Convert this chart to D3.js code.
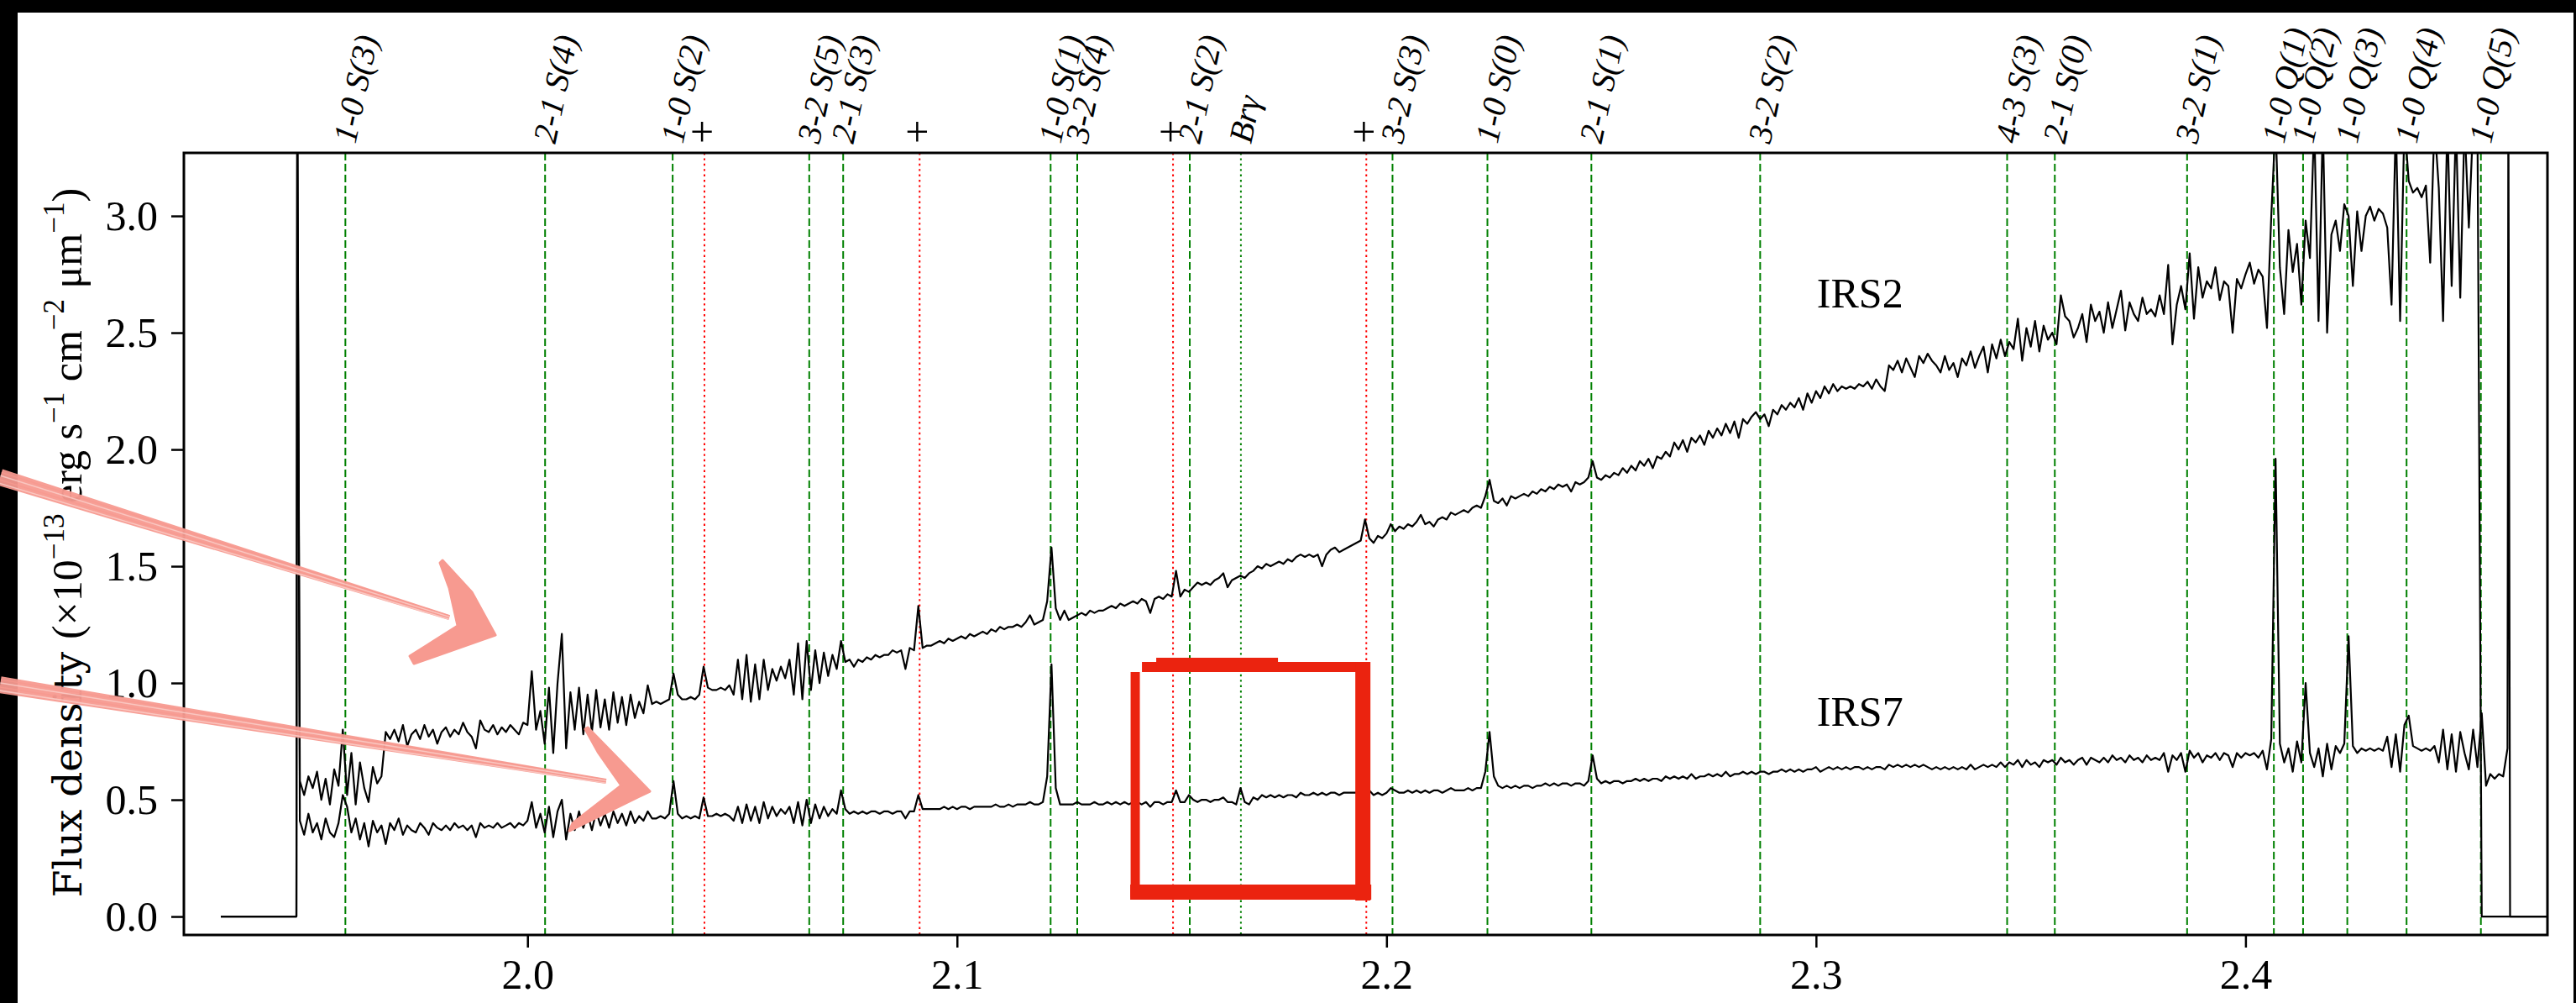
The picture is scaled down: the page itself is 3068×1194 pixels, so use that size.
<!DOCTYPE html>
<html><head><meta charset="utf-8">
<script src="https://cdn.jsdelivr.net/npm/d3@7"></script>
<style>
html,body{margin:0;padding:0;background:#000;}
svg{display:block;}
</style></head><body>
<svg id="chart" width="3068" height="1194"></svg>
<script>
// ---------------- DATA ----------------
const wavelength = [1.9286,1.9462,1.9464,
1.947,1.948,1.949,
1.950,1.951,1.952,1.953,1.954,1.955,1.956,1.957,1.958,1.959,
1.960,1.961,1.962,1.963,1.964,1.965,1.966,1.967,1.968,1.969,
1.970,1.971,1.972,1.973,1.974,1.975,1.976,1.977,1.978,1.979,
1.980,1.981,1.982,1.983,1.984,1.985,1.986,1.987,1.988,1.989,
1.990,1.991,1.992,1.993,1.994,1.995,1.996,1.997,1.998,1.999,
2.000,2.001,2.002,2.003,2.004,2.005,2.006,2.007,2.008,2.009,
2.010,2.011,2.012,2.013,2.014,2.015,2.016,2.017,2.018,2.019,
2.020,2.021,2.022,2.023,2.024,2.025,2.026,2.027,2.028,2.029,
2.030,2.031,2.032,2.033,2.034,2.035,2.036,2.037,2.038,2.039,
2.040,2.041,2.042,2.043,2.044,2.045,2.046,2.047,2.048,2.049,
2.050,2.051,2.052,2.053,2.054,2.055,2.056,2.057,2.058,2.059,
2.060,2.061,2.062,2.063,2.064,2.065,2.066,2.067,2.068,2.069,
2.070,2.071,2.072,2.073,2.074,2.075,2.076,2.077,2.078,2.079,
2.080,2.081,2.082,2.083,2.084,2.085,2.086,2.087,2.088,2.089,
2.090,2.091,2.092,2.093,2.094,2.095,2.096,2.097,2.098,2.099,
2.100,2.101,2.102,2.103,2.104,2.105,2.106,2.107,2.108,2.109,
2.110,2.111,2.112,2.113,2.114,2.115,2.116,2.117,2.118,2.119,
2.120,2.121,2.122,2.123,2.124,2.125,2.126,2.127,2.128,2.129,
2.130,2.131,2.132,2.133,2.134,2.135,2.136,2.137,2.138,2.139,
2.140,2.141,2.142,2.143,2.144,2.145,2.146,2.147,2.148,2.149,
2.150,2.151,2.152,2.153,2.154,2.155,2.156,2.157,2.158,2.159,
2.160,2.161,2.162,2.163,2.164,2.165,2.166,2.167,2.168,2.169,
2.170,2.171,2.172,2.173,2.174,2.175,2.176,2.177,2.178,2.179,
2.180,2.181,2.182,2.183,2.184,2.185,2.186,2.187,2.188,2.189,
2.190,2.191,2.192,2.193,2.194,2.195,2.196,2.197,2.198,2.199,
2.200,2.201,2.202,2.203,2.204,2.205,2.206,2.207,2.208,2.209,
2.210,2.211,2.212,2.213,2.214,2.215,2.216,2.217,2.218,2.219,
2.220,2.221,2.222,2.223,2.224,2.225,2.226,2.227,2.228,2.229,
2.230,2.231,2.232,2.233,2.234,2.235,2.236,2.237,2.238,2.239,
2.240,2.241,2.242,2.243,2.244,2.245,2.246,2.247,2.248,2.249,
2.250,2.251,2.252,2.253,2.254,2.255,2.256,2.257,2.258,2.259,
2.260,2.261,2.262,2.263,2.264,2.265,2.266,2.267,2.268,2.269,
2.270,2.271,2.272,2.273,2.274,2.275,2.276,2.277,2.278,2.279,
2.280,2.281,2.282,2.283,2.284,2.285,2.286,2.287,2.288,2.289,
2.290,2.291,2.292,2.293,2.294,2.295,2.296,2.297,2.298,2.299,
2.300,2.301,2.302,2.303,2.304,2.305,2.306,2.307,2.308,2.309,
2.310,2.311,2.312,2.313,2.314,2.315,2.316,2.317,2.318,2.319,
2.320,2.321,2.322,2.323,2.324,2.325,2.326,2.327,2.328,2.329,
2.330,2.331,2.332,2.333,2.334,2.335,2.336,2.337,2.338,2.339,
2.340,2.341,2.342,2.343,2.344,2.345,2.346,2.347,2.348,2.349,
2.350,2.351,2.352,2.353,2.354,2.355,2.356,2.357,2.358,2.359,
2.360,2.361,2.362,2.363,2.364,2.365,2.366,2.367,2.368,2.369,
2.370,2.371,2.372,2.373,2.374,2.375,2.376,2.377,2.378,2.379,
2.380,2.381,2.382,2.383,2.384,2.385,2.386,2.387,2.388,2.389,
2.390,2.391,2.392,2.393,2.394,2.395,2.396,2.397,2.398,2.399,
2.400,2.401,2.402,2.403,2.404,2.405,2.406,2.407,2.408,2.409,
2.410,2.411,2.412,2.413,2.414,2.415,2.416,2.417,2.418,2.419,
2.420,2.421,2.422,2.423,2.424,2.425,2.426,2.427,2.428,2.429,
2.430,2.431,2.432,2.433,2.434,2.435,2.436,2.437,2.438,2.439,
2.440,2.441,2.442,2.443,2.444,2.445,2.446,2.447,2.448,2.449,
2.450,2.451,2.452,2.453,2.454,2.455,2.456,2.457,2.458,2.459,
2.460,2.461,
2.4612,2.4616,2.4710];

const irs2Flux = [0,0,3.6,
0.58,0.52,0.60,
0.55,0.62,0.50,0.59,0.48,0.63,0.56,0.80,0.52,0.70,
0.48,0.66,0.55,0.49,0.64,0.57,0.60,0.79,0.76,0.80,
0.75,0.82,0.73,0.78,0.80,0.76,0.82,0.77,0.80,0.74,
0.79,0.81,0.77,0.80,0.78,0.83,0.79,0.77,0.72,0.84,
0.80,0.79,0.82,0.78,0.81,0.79,0.82,0.80,0.78,0.83,
0.82,1.05,0.80,0.88,0.74,0.98,0.70,1.00,1.21,0.72,
0.96,0.80,0.98,0.78,0.95,0.79,0.97,0.81,0.93,0.80,
0.96,0.83,0.94,0.82,0.95,0.85,0.92,0.87,0.99,0.91,
0.92,0.91,0.92,0.93,1.04,0.95,0.93,0.93,0.94,0.93,
0.95,1.07,0.98,0.97,0.97,0.98,0.97,0.99,0.95,1.10,
0.93,1.12,0.92,1.08,0.93,1.10,0.97,1.06,1.01,1.07,
1.02,1.10,0.95,1.17,0.93,1.18,0.97,1.14,1.00,1.13,
1.03,1.12,1.06,1.18,1.09,1.10,1.07,1.10,1.09,1.11,
1.10,1.12,1.11,1.12,1.12,1.14,1.13,1.14,1.06,1.15,
1.14,1.33,1.15,1.16,1.16,1.17,1.18,1.17,1.19,1.18,
1.19,1.20,1.19,1.21,1.20,1.21,1.22,1.21,1.23,1.22,
1.24,1.23,1.24,1.24,1.25,1.24,1.26,1.29,1.25,1.26,
1.27,1.35,1.58,1.32,1.27,1.31,1.27,1.28,1.29,1.30,
1.29,1.31,1.30,1.31,1.31,1.32,1.33,1.32,1.34,1.33,
1.34,1.35,1.34,1.36,1.35,1.30,1.36,1.37,1.36,1.38,
1.37,1.48,1.37,1.40,1.39,1.41,1.43,1.42,1.43,1.42,
1.44,1.45,1.47,1.41,1.44,1.45,1.46,1.45,1.47,1.48,
1.50,1.49,1.51,1.50,1.51,1.52,1.51,1.53,1.52,1.54,
1.55,1.54,1.55,1.54,1.55,1.50,1.55,1.57,1.58,1.56,
1.57,1.58,1.59,1.60,1.61,1.70,1.62,1.60,1.63,1.62,
1.64,1.68,1.65,1.67,1.66,1.68,1.67,1.69,1.72,1.68,
1.69,1.67,1.70,1.71,1.70,1.73,1.72,1.73,1.74,1.73,
1.75,1.76,1.75,1.80,1.87,1.78,1.77,1.79,1.76,1.80,
1.79,1.80,1.81,1.80,1.82,1.81,1.83,1.82,1.84,1.83,
1.85,1.84,1.85,1.82,1.86,1.85,1.86,1.88,1.95,1.88,
1.87,1.89,1.88,1.90,1.89,1.92,1.90,1.93,1.91,1.95,
1.93,1.96,1.92,1.97,1.96,1.99,1.97,2.03,2.00,2.04,
1.99,2.05,2.03,2.06,2.02,2.08,2.05,2.09,2.06,2.11,
2.07,2.12,2.05,2.13,2.11,2.14,2.16,2.13,2.15,2.10,
2.17,2.15,2.19,2.17,2.20,2.18,2.22,2.17,2.24,2.20,
2.25,2.22,2.27,2.24,2.28,2.25,2.27,2.26,2.27,2.26,
2.28,2.27,2.29,2.26,2.30,2.27,2.25,2.36,2.34,2.38,
2.33,2.39,2.35,2.31,2.40,2.37,2.41,2.38,2.36,2.33,
2.40,2.34,2.37,2.31,2.39,2.36,2.42,2.35,2.40,2.44,
2.33,2.45,2.39,2.47,2.40,2.46,2.43,2.56,2.38,2.52,
2.44,2.55,2.42,2.53,2.47,2.50,2.45,2.66,2.57,2.55,
2.48,2.52,2.58,2.46,2.62,2.55,2.59,2.50,2.63,2.52,
2.60,2.68,2.51,2.63,2.58,2.55,2.65,2.58,2.60,2.57,
2.66,2.58,2.79,2.45,2.62,2.70,2.60,2.84,2.56,2.78,
2.65,2.72,2.69,2.78,2.64,2.72,2.70,2.50,2.73,2.69,
2.75,2.80,2.71,2.77,2.74,2.52,3.00,3.40,2.78,2.58,
2.94,2.76,2.88,2.62,2.98,2.82,3.40,2.55,3.40,2.50,
2.92,2.98,2.85,3.05,3.00,2.70,3.02,2.85,3.00,3.04,
2.98,3.03,3.01,2.95,2.62,3.40,2.55,3.40,3.15,3.10,
3.12,3.08,3.13,2.80,3.40,3.12,2.55,3.40,2.70,3.40,
2.65,3.40,2.95,3.40,3.40,0,0,0,0,0,
0,0,
0,0,0];

const irs7Flux = [0,0,3.6,
0.41,0.35,0.44,
0.36,0.40,0.33,0.42,0.36,0.34,0.40,0.52,0.47,0.36,
0.42,0.33,0.40,0.30,0.41,0.36,0.39,0.31,0.40,0.37,
0.42,0.35,0.39,0.37,0.36,0.40,0.38,0.35,0.40,0.38,
0.37,0.39,0.37,0.40,0.38,0.39,0.37,0.39,0.34,0.40,
0.38,0.39,0.38,0.40,0.38,0.39,0.40,0.38,0.40,0.39,
0.41,0.49,0.38,0.44,0.36,0.47,0.34,0.45,0.50,0.33,
0.44,0.37,0.45,0.38,0.44,0.37,0.45,0.39,0.44,0.38,
0.45,0.40,0.44,0.39,0.45,0.40,0.43,0.41,0.45,0.42,
0.42,0.43,0.42,0.44,0.58,0.44,0.42,0.43,0.42,0.43,
0.42,0.51,0.43,0.43,0.44,0.43,0.44,0.43,0.41,0.47,
0.40,0.48,0.41,0.47,0.40,0.49,0.42,0.47,0.43,0.46,
0.44,0.47,0.40,0.49,0.39,0.50,0.40,0.48,0.42,0.47,
0.43,0.46,0.44,0.54,0.46,0.44,0.45,0.44,0.45,0.44,
0.45,0.45,0.44,0.45,0.45,0.44,0.45,0.45,0.42,0.45,
0.45,0.52,0.46,0.46,0.46,0.46,0.46,0.47,0.46,0.47,
0.46,0.47,0.47,0.46,0.47,0.47,0.47,0.47,0.47,0.48,
0.47,0.47,0.48,0.47,0.48,0.48,0.48,0.49,0.48,0.48,
0.49,0.60,1.08,0.55,0.48,0.48,0.48,0.48,0.49,0.48,
0.48,0.48,0.49,0.48,0.48,0.49,0.48,0.49,0.48,0.49,
0.48,0.49,0.49,0.48,0.49,0.47,0.49,0.49,0.48,0.49,
0.49,0.54,0.49,0.49,0.52,0.50,0.49,0.50,0.50,0.49,
0.50,0.50,0.51,0.49,0.49,0.48,0.55,0.49,0.48,0.51,
0.50,0.52,0.51,0.52,0.51,0.52,0.51,0.52,0.52,0.51,
0.53,0.52,0.52,0.53,0.52,0.53,0.52,0.53,0.53,0.52,
0.53,0.53,0.53,0.53,0.52,0.53,0.54,0.52,0.53,0.52,
0.53,0.55,0.54,0.53,0.53,0.54,0.53,0.54,0.53,0.54,
0.53,0.54,0.54,0.53,0.54,0.55,0.54,0.54,0.54,0.55,
0.54,0.55,0.55,0.62,0.79,0.60,0.56,0.55,0.56,0.55,
0.56,0.55,0.56,0.56,0.55,0.56,0.56,0.57,0.56,0.57,
0.56,0.57,0.57,0.56,0.57,0.57,0.56,0.58,0.69,0.59,
0.57,0.58,0.57,0.58,0.58,0.57,0.58,0.58,0.59,0.58,
0.59,0.58,0.59,0.59,0.58,0.60,0.59,0.60,0.59,0.60,
0.59,0.61,0.59,0.60,0.60,0.61,0.60,0.61,0.60,0.62,
0.60,0.61,0.61,0.62,0.61,0.62,0.61,0.62,0.62,0.61,
0.62,0.62,0.63,0.62,0.63,0.62,0.63,0.62,0.63,0.63,
0.64,0.62,0.63,0.64,0.63,0.64,0.63,0.64,0.63,0.64,
0.64,0.63,0.64,0.63,0.64,0.64,0.63,0.65,0.64,0.65,
0.64,0.65,0.64,0.65,0.64,0.65,0.64,0.63,0.64,0.63,
0.64,0.63,0.64,0.63,0.64,0.63,0.65,0.63,0.64,0.65,
0.64,0.65,0.64,0.66,0.64,0.66,0.65,0.67,0.64,0.67,
0.65,0.66,0.64,0.67,0.66,0.67,0.65,0.68,0.66,0.67,
0.65,0.67,0.68,0.65,0.68,0.67,0.66,0.68,0.66,0.69,
0.67,0.68,0.66,0.69,0.67,0.68,0.66,0.69,0.67,0.68,
0.67,0.70,0.62,0.69,0.67,0.70,0.62,0.71,0.68,0.70,
0.66,0.69,0.68,0.70,0.67,0.70,0.69,0.64,0.70,0.68,
0.70,0.69,0.70,0.68,0.71,0.63,0.76,1.96,0.74,0.66,
0.72,0.62,0.75,0.66,1.00,0.70,0.64,0.72,0.60,0.74,
0.63,0.73,0.70,0.74,1.20,0.73,0.70,0.72,0.71,0.72,
0.71,0.72,0.71,0.77,0.64,0.78,0.62,0.82,0.86,0.73,
0.72,0.71,0.72,0.71,0.73,0.66,0.80,0.63,0.78,0.62,
0.79,0.70,0.63,0.80,0.64,0.87,0.56,0.61,0.59,0.61,
0.60,0.72,
3.6,0,0];

const xTicks = [2.0, 2.1, 2.2, 2.3, 2.4];
const yTicks = [0.0, 0.5, 1.0, 1.5, 2.0, 2.5, 3.0];

const h2Waves  = [1.9576, 2.0041, 2.0338, 2.0656, 2.0735, 2.1218, 2.1280, 2.1542, 2.1661, 2.2014, 2.2235, 2.2477, 2.2870, 2.3445, 2.3556, 2.3864, 2.4066, 2.4134, 2.4237, 2.4375, 2.4548];
const h2Labels = ["1-0 S(3)", "2-1 S(4)", "1-0 S(2)", "3-2 S(5)", "2-1 S(3)", "1-0 S(1)", "3-2 S(4)", "2-1 S(2)", "Brγ", "3-2 S(3)", "1-0 S(0)", "2-1 S(1)", "3-2 S(2)", "4-3 S(3)", "2-1 S(0)", "3-2 S(1)", "1-0 Q(1)", "1-0 Q(2)", "1-0 Q(3)", "1-0 Q(4)", "1-0 Q(5)"];
const plusWaves = [2.0412, 2.0913, 2.1503, 2.1953];

const sourceNames = ["IRS2", "IRS7"];
const sourceLabelPos = [[2.3002, 2.608], [2.3002, 0.817]];

// hand-drawn annotations, in data units (wavelength, flux)
const arrowShafts = [[[1.8772, 1.881], [1.9818, 1.2806]], [[1.8772, 0.9928], [2.0183, 0.5791]]];
const arrowHeads = [
  [[1.98022,1.5252],[1.98706,1.3885],[1.99253,1.2050],[1.97357,1.0827],[1.97260,1.1151],[1.98374,1.2446],[1.98178,1.4065],[1.97963,1.5144]],
  [[2.01404,0.8094],[2.02850,0.5360],[2.00973,0.3669],[2.01051,0.3993],[2.02185,0.5612],[2.01638,0.7050],[2.01345,0.8022]]
];
const boxX = [2.1415, 2.1945];
const boxY = [0.1043, 1.0683];

// ---------------- LAYOUT ----------------
const W = 3068, H = 1194;
const L = 219, R = 3034, T = 182, B = 1113;
const svg = d3.select("#chart");
const x = d3.scaleLinear().domain([1.92, 2.4703]).range([L, R]);
const y = d3.scaleLinear().domain([-0.079, 3.27]).range([B, T]);

svg.append("rect").attr("x",0).attr("y",0).attr("width",W).attr("height",H).attr("fill","#000");
svg.append("rect").attr("x",21).attr("y",15).attr("width",3044).attr("height",H-15).attr("fill","#fff");

svg.append("defs").append("clipPath").attr("id","plotclip")
  .append("rect").attr("x",L).attr("y",T).attr("width",R-L).attr("height",B-T);

const plot = svg.append("g").attr("clip-path","url(#plotclip)");

// vertical line markers
h2Waves.forEach((w,i) => {
  const isBr = h2Labels[i] === "Brγ";
  plot.append("line").attr("x1",x(w)).attr("x2",x(w)).attr("y1",T).attr("y2",B)
    .attr("stroke","#008000").attr("stroke-width",2)
    .attr("stroke-dasharray", isBr ? "2.4,4" : "9,4");
});
plusWaves.forEach(w => {
  plot.append("line").attr("x1",x(w)).attr("x2",x(w)).attr("y1",T).attr("y2",B)
    .attr("stroke","#ff0000").attr("stroke-width",2).attr("stroke-dasharray","2.4,4");
});

// spectra
const line = d3.line().x(d => x(d[0])).y(d => y(d[1]));
[irs2Flux, irs7Flux].forEach(series => {
  const pts = wavelength.map((w,i) => [w, series[i]]);
  plot.append("path").attr("d", line(pts)).attr("fill","none")
    .attr("stroke","#000").attr("stroke-width",2.2).attr("stroke-linejoin","round");
});

// source labels
sourceNames.forEach((n,i) => {
  svg.append("text").attr("x", x(sourceLabelPos[i][0])).attr("y", y(sourceLabelPos[i][1]))
    .attr("font-family","Liberation Serif").attr("font-size",50).text(n);
});

// frame
svg.append("rect").attr("x",L).attr("y",T).attr("width",R-L).attr("height",B-T)
  .attr("fill","none").attr("stroke","#000").attr("stroke-width",3);

// axes
const yAxis = svg.append("g").attr("transform",`translate(${L},0)`)
  .call(d3.axisLeft(y).tickValues(yTicks).tickFormat(d3.format(".1f")).tickSize(15).tickPadding(16).tickSizeOuter(0));
const xAxis = svg.append("g").attr("transform",`translate(0,${B})`)
  .call(d3.axisBottom(x).tickValues(xTicks).tickFormat(d3.format(".1f")).tickSize(15).tickPadding(13).tickSizeOuter(0));
[xAxis, yAxis].forEach(a => {
  a.select(".domain").remove();
  a.selectAll("line").attr("stroke","#000").attr("stroke-width",2.5);
  a.selectAll("text").attr("font-family","Liberation Serif").attr("font-size",50).attr("fill","#000");
});

// top labels
h2Waves.forEach((w,i) => {
  svg.append("text")
    .attr("transform",`translate(${x(w)+12},172) rotate(-78)`)
    .attr("font-family","Liberation Serif").attr("font-style","italic").attr("font-size",40)
    .text(h2Labels[i]);
});
plusWaves.forEach(w => {
  svg.append("text").attr("x", x(w)-3).attr("y",174).attr("text-anchor","middle")
    .attr("font-family","Liberation Serif").attr("font-size",50).text("+");
});

// y label
const yl = svg.append("text").attr("transform","translate(97,646) rotate(-90)")
  .attr("text-anchor","middle").attr("font-family","Liberation Serif").attr("font-size",50);
yl.append("tspan").attr("font-family","DejaVu Serif").attr("font-size",47).text("Flux density ");
yl.append("tspan").text("(×10");
yl.append("tspan").attr("font-size",35).attr("dy",-21).text("−13");
yl.append("tspan").attr("dy",21).text(" erg s");
yl.append("tspan").attr("font-size",35).attr("dy",-21).text("−1");
yl.append("tspan").attr("dy",21).text(" cm");
yl.append("tspan").attr("font-size",35).attr("dy",-21).text("−2");
yl.append("tspan").attr("dy",21).text(" μm");
yl.append("tspan").attr("font-size",35).attr("dy",-21).text("−1");
yl.append("tspan").attr("dy",21).text(")");

// ---------------- ANNOTATIONS ----------------
const pink = "#f79a90";
arrowShafts.forEach((s,k) => {
  const p0 = [x(s[0][0]), y(s[0][1])], p1 = [x(s[1][0]), y(s[1][1])];
  const dx = p1[0]-p0[0], dy = p1[1]-p0[1], len = Math.hypot(dx,dy);
  const nx = -dy/len, ny = dx/len;
  const w0 = 10, w1 = 3;
  const poly = [[p0[0]+nx*w0,p0[1]+ny*w0],[p1[0]+nx*w1,p1[1]+ny*w1],[p1[0]-nx*w1,p1[1]-ny*w1],[p0[0]-nx*w0,p0[1]-ny*w0]];
  svg.append("polygon").attr("points", poly.map(p=>p.join(",")).join(" ")).attr("fill",pink).attr("opacity",0.95);
  [-6,-2,3,7].forEach((o,j) => {
    svg.append("line").attr("x1",p0[0]+nx*o).attr("y1",p0[1]+ny*o)
      .attr("x2",p1[0]+nx*o*0.3).attr("y2",p1[1]+ny*o*0.3)
      .attr("stroke", j%2 ? "#fbd0cb" : pink).attr("stroke-width",1.5).attr("opacity",0.8);
  });
  svg.append("polygon").attr("points", arrowHeads[k].map(p=>[x(p[0]),y(p[1])].join(",")).join(" "))
    .attr("fill",pink).attr("stroke",pink).attr("stroke-width",3).attr("stroke-linejoin","round");
});

const red = "#eb230f";
const bx0 = x(boxX[0]), bx1 = x(boxX[1]), by0 = y(boxY[1]), by1 = y(boxY[0]);
svg.append("line").attr("x1",bx0).attr("x2",bx0).attr("y1",by0+6).attr("y2",by1+6).attr("stroke",red).attr("stroke-width",11);
svg.append("line").attr("x1",bx0+8).attr("x2",bx1+8).attr("y1",by0).attr("y2",by0).attr("stroke",red).attr("stroke-width",12);
svg.append("line").attr("x1",bx0+25).attr("x2",bx0+170).attr("y1",by0-4).attr("y2",by0-4).attr("stroke",red).attr("stroke-width",14);
svg.append("line").attr("x1",bx1).attr("x2",bx1).attr("y1",by0-6).attr("y2",by1+10).attr("stroke",red).attr("stroke-width",18);
svg.append("line").attr("x1",bx0-6).attr("x2",bx1+10).attr("y1",by1).attr("y2",by1).attr("stroke",red).attr("stroke-width",18);
</script>
</body></html>
